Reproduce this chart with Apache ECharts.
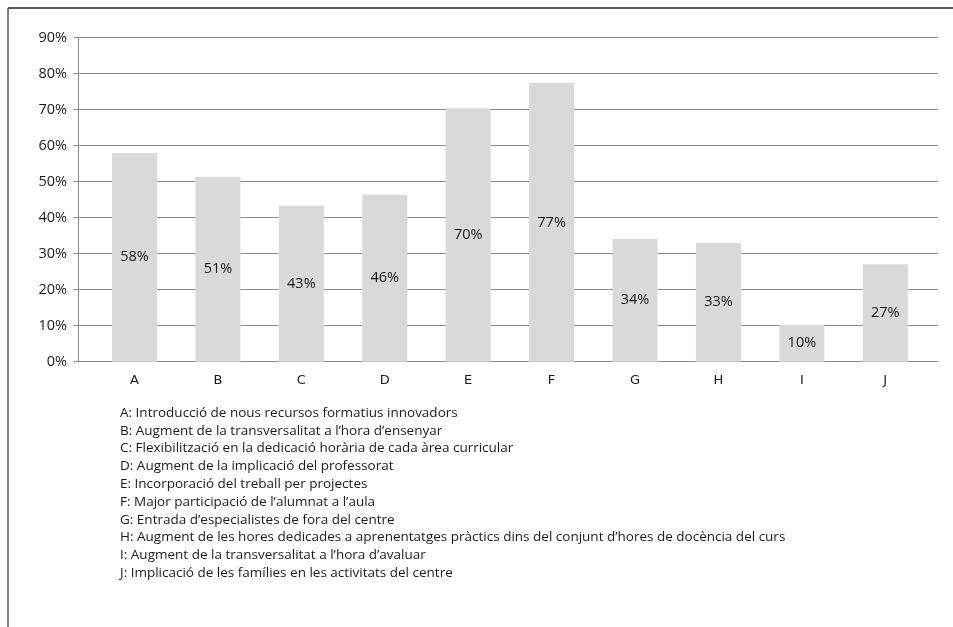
<!DOCTYPE html>
<html><head><meta charset="utf-8">
<script src="https://cdn.jsdelivr.net/npm/echarts@6/dist/echarts.min.js"></script>
<style>html,body{margin:0;padding:0;background:#fff}#c{width:953px;height:627px}</style>
</head><body><div id="c"></div>
<script>
const categories = ['A','B','C','D','E','F','G','H','I','J'];
const values = [58.0, 51.4, 43.4, 46.4, 70.4, 77.4, 34.1, 33.0, 10.2, 27.1];
const yTicks = {min: 0, max: 90, interval: 10};
const descriptions = [
  'Introducció de nous recursos formatius innovadors',
  'Augment de la transversalitat a l’hora d’ensenyar',
  'Flexibilització en la dedicació horària de cada àrea curricular',
  'Augment de la implicació del professorat',
  'Incorporació del treball per projectes',
  'Major participació de l’alumnat a l’aula',
  'Entrada d’especialistes de fora del centre',
  'Augment de les hores dedicades a aprenentatges pràctics dins del conjunt d’hores de docència del curs',
  'Augment de la transversalitat a l’hora d’avaluar',
  'Implicació de les famílies en les activitats del centre'
];
const legendText = categories.map((c,i)=>c+': '+descriptions[i]).join('\n');

const axisGray = '#8c8c8c';
const textCol = '#1a1a1a';
const chart = echarts.init(document.getElementById('c'), null, {renderer:'canvas'});
chart.setOption({
  animation:false,
  backgroundColor:'#fff',
  grid:[
    {left:78, right:15, top:37.7, bottom:265.3},
    {left:92.8, right:26, top:37.7, bottom:265.3}
  ],
  xAxis:[
    {type:'category', gridIndex:0, data:categories,
      axisLine:{lineStyle:{color:axisGray, width:1}},
      axisTick:{show:false}, axisLabel:{show:false}, splitLine:{show:false}},
    {type:'category', gridIndex:1, data:categories,
      axisLine:{show:false}, axisTick:{show:false}, splitLine:{show:false},
      axisLabel:{color:textCol, fontFamily:'DejaVu Sans', fontSize:13, margin:12}}
  ],
  yAxis:[
    {type:'value', gridIndex:0, min:yTicks.min, max:yTicks.max, interval:yTicks.interval,
      axisLine:{show:true, lineStyle:{color:axisGray}},
      axisTick:{show:true, length:4, lineStyle:{color:axisGray}},
      splitLine:{lineStyle:{color:axisGray, width:1}},
      axisLabel:{color:textCol, fontFamily:'Open Sans', fontSize:14.5, margin:11, formatter:v=>v+'%'}},
    {type:'value', gridIndex:1, min:yTicks.min, max:yTicks.max, interval:yTicks.interval,
      show:false}
  ],
  series:[{type:'bar', xAxisIndex:1, yAxisIndex:1, data:values, barWidth:45,
    itemStyle:{color:'#d9d9d9'},
    label:{show:true, position:'inside', color:textCol, fontFamily:'Open Sans', fontSize:14.5,
      formatter:p=>Math.round(p.value)+'%'}}],
  graphic:[
    {type:'line', shape:{x1:8, y1:8, x2:953, y2:8}, style:{stroke:'#222', lineWidth:1.5}},
    {type:'line', shape:{x1:8, y1:8, x2:8, y2:627}, style:{stroke:'#555', lineWidth:1.5}},
    {type:'text', left:120, top:404, style:{text:legendText, fontFamily:'Open Sans', fontSize:13.5, lineHeight:17.8, fill:textCol}}
  ]
});
</script></body></html>
